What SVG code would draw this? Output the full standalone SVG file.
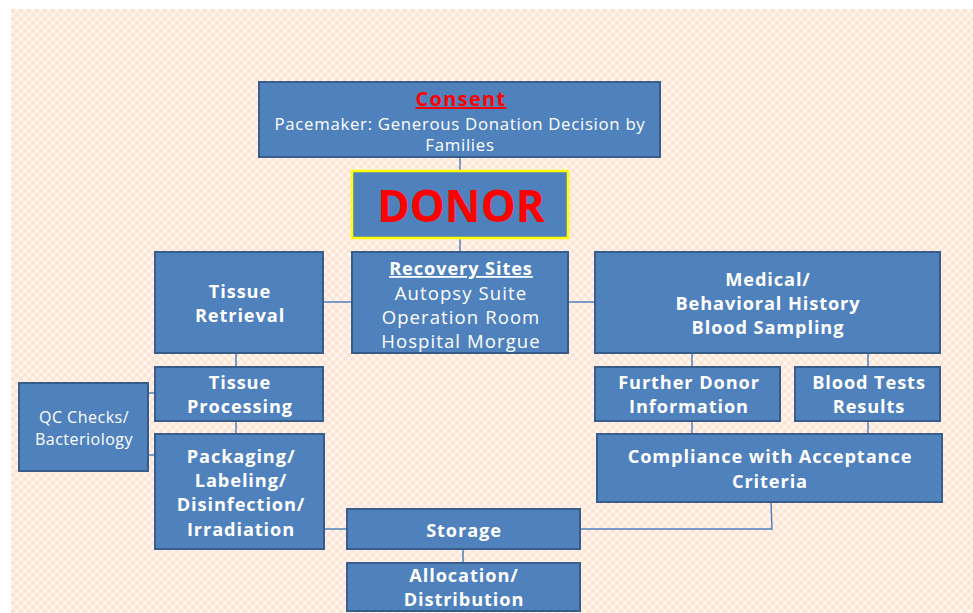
<svg xmlns="http://www.w3.org/2000/svg" width="973" height="613" viewBox="0 0 973 613">
<defs>
<pattern id="chk" x="11" y="9" width="8" height="8" patternUnits="userSpaceOnUse">
<rect width="8" height="8" fill="#FFF5EE"/>
<rect width="4" height="4" fill="#FCE3D2"/>
<rect x="4" y="4" width="4" height="4" fill="#FCE3D2"/>
</pattern>
<style>
.box{fill:#4F81BD;stroke:#385D8A;stroke-width:2}
.donor{fill:#4F81BD;stroke:#FFFF00;stroke-width:2.5}
.t{font-family:"Open Sans","Liberation Sans",sans-serif;fill:#FFFFFF;text-anchor:middle}
.b{font-weight:bold;font-size:18.2px;letter-spacing:0.9px}
.red{fill:#FF0000;font-weight:bold}
.u{text-decoration:underline}
.c line,.c polyline{stroke:#4F81BD;stroke-width:1.5;fill:none}
</style>
</defs>
<rect width="973" height="613" fill="#FFFFFF"/>
<rect x="11" y="9" width="962" height="604" fill="url(#chk)"/>

<g class="c" id="connectors">
<line x1="460" y1="157" x2="460" y2="171"/>
<line x1="460" y1="238" x2="460" y2="252"/>
<line x1="323" y1="302" x2="352" y2="302"/>
<line x1="568" y1="302" x2="595" y2="302"/>
<line x1="236" y1="353" x2="236" y2="367"/>
<line x1="236" y1="421" x2="236" y2="434"/>
<line x1="148" y1="393" x2="155" y2="393"/>
<line x1="148" y1="455" x2="155" y2="455"/>
<line x1="324" y1="529" x2="347" y2="529"/>
<polyline points="580,529 772,529 771,502"/>
<line x1="463" y1="549" x2="463" y2="563"/>
<line x1="692" y1="353" x2="692" y2="367"/>
<line x1="868" y1="353" x2="868" y2="367"/>
<line x1="692" y1="421" x2="692" y2="434"/>
<line x1="868" y1="421" x2="868" y2="434"/>
</g>

<g id="consent">
<rect class="box" x="259" y="82" width="401" height="75"/>
<text class="t red u" x="461" y="106" font-size="20" letter-spacing="1.3">Consent</text>
<text class="t" x="460" y="130" font-size="16.8" letter-spacing="0.7">Pacemaker: Generous Donation Decision by</text>
<text class="t" x="460" y="151" font-size="16.8" letter-spacing="0.7">Families</text>
</g>

<g id="donor">
<rect class="donor" x="352" y="171" width="216" height="67"/>
<text class="t red" x="461" y="222" font-size="44">DONOR</text>
</g>

<g id="tissue-retrieval">
<rect class="box" x="155" y="252" width="168" height="101"/>
<text class="t b" x="240" y="298">Tissue</text>
<text class="t b" x="240" y="322">Retrieval</text>
</g>

<g id="recovery-sites">
<rect class="box" x="352" y="252" width="216" height="101"/>
<text class="t b u" x="461" y="275" font-size="19.5" letter-spacing="1.8">Recovery Sites</text>
<text class="t" x="461" y="300" font-size="18.5" letter-spacing="1.1">Autopsy Suite</text>
<text class="t" x="461" y="324" font-size="18.5" letter-spacing="1.1">Operation Room</text>
<text class="t" x="461" y="348" font-size="18.5" letter-spacing="1.1">Hospital Morgue</text>
</g>

<g id="medical">
<rect class="box" x="595" y="252" width="345" height="101"/>
<text class="t b" x="768" y="286">Medical/</text>
<text class="t b" x="768" y="310">Behavioral History</text>
<text class="t b" x="768" y="334">Blood Sampling</text>
</g>

<g id="tissue-processing">
<rect class="box" x="155" y="367" width="168" height="54"/>
<text class="t b" x="240" y="389">Tissue</text>
<text class="t b" x="240" y="413">Processing</text>
</g>

<g id="qc-checks">
<rect class="box" x="19" y="383" width="129" height="88"/>
<text class="t" x="84" y="423" font-size="16" letter-spacing="0.5">QC Checks/</text>
<text class="t" x="84" y="445" font-size="16" letter-spacing="0.5">Bacteriology</text>
</g>

<g id="packaging">
<rect class="box" x="155" y="434" width="169" height="115"/>
<text class="t b" x="241" y="463">Packaging/</text>
<text class="t b" x="241" y="487">Labeling/</text>
<text class="t b" x="241" y="511">Disinfection/</text>
<text class="t b" x="241" y="536">Irradiation</text>
</g>

<g id="further-donor">
<rect class="box" x="595" y="367" width="185" height="54"/>
<text class="t b" x="689" y="389">Further Donor</text>
<text class="t b" x="689" y="413">Information</text>
</g>

<g id="blood-tests">
<rect class="box" x="795" y="367" width="145" height="54"/>
<text class="t b" x="869" y="389">Blood Tests</text>
<text class="t b" x="869" y="413">Results</text>
</g>

<g id="compliance">
<rect class="box" x="597" y="434" width="345" height="68"/>
<text class="t b" x="770" y="463">Compliance with Acceptance</text>
<text class="t b" x="770" y="488">Criteria</text>
</g>

<g id="storage">
<rect class="box" x="347" y="509" width="233" height="40"/>
<text class="t b" x="464" y="537" font-size="19.5" letter-spacing="1.8">Storage</text>
</g>

<g id="allocation">
<rect class="box" x="347" y="563" width="233" height="48"/>
<text class="t b" x="464" y="582">Allocation/</text>
<text class="t b" x="464" y="606">Distribution</text>
</g>
</svg>
